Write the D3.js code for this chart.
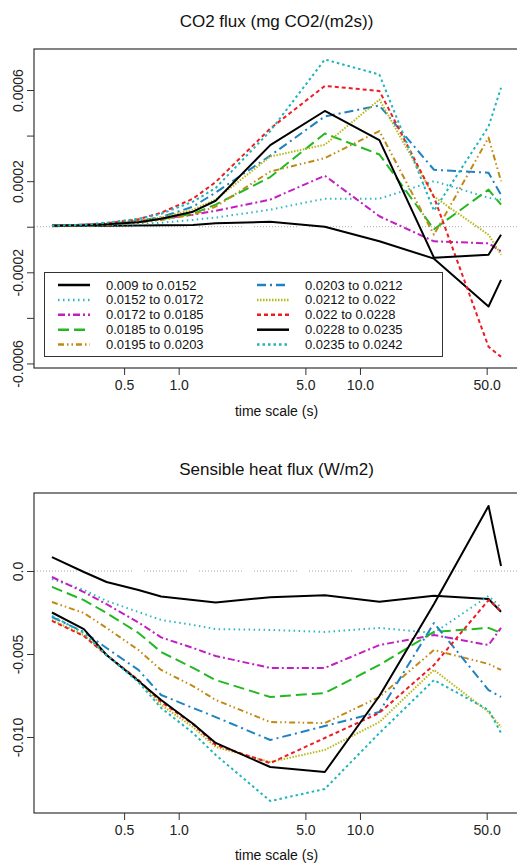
<!DOCTYPE html>
<html><head><meta charset="utf-8">
<script src="https://cdn.jsdelivr.net/npm/d3@7"></script>
<style>
body{margin:0;background:#fff;}
svg{display:block;font-family:"Liberation Sans",Arial,sans-serif;}
</style></head>
<body>
<svg id="c" width="517" height="865"></svg>
<script>
// ---------- data ----------
const timeScale = [0.2,0.3,0.4,0.6,0.8,1.2,1.6,3.2,6.4,12.8,25.6,51.2,60];
const seriesLabels = ["0.009 to 0.0152","0.0152 to 0.0172","0.0172 to 0.0185","0.0185 to 0.0195","0.0195 to 0.0203",
  "0.0203 to 0.0212","0.0212 to 0.022","0.022 to 0.0228","0.0228 to 0.0235","0.0235 to 0.0242"];
const xTicks = [0.5,1,5,10,50];
const xTickLabels = ["0.5","1.0","5.0","10.0","50.0"];
const co2Ticks = [-0.0006,-0.0004,-0.0002,0,0.0002,0.0004,0.0006];
const co2TickLabels = ["-0.0006","","-0.0002","","0.0002","","0.0006"];
const heatTicks = [-0.010,-0.005,0];
const heatTickLabels = ["-0.010","-0.005","0.0"];

// CO2 flux (mg CO2/(m2s))
const co2_1  = [0.0000044,0.000004,0.000004,0.000005,0.000006,0.000008,0.000015,0.000022,0,-0.000064,-0.00014,-0.00035,-0.000233];
const co2_2  = [0.000002,0.0000044,0.0000066,0.000011,0.0000176,0.00003,0.00004,0.000075,0.000123,0.000123,0.0002,0.000127,0.00012];
const co2_3  = [0.0000044,0.0000088,0.000013,0.000026,0.000035,0.000053,0.00007,0.000119,0.000224,0.000046,-0.000064,-0.000073,-0.000108];
const co2_4  = [0.0000044,0.0000066,0.000011,0.000022,0.000033,0.000057,0.000097,0.000218,0.000409,0.000317,-0.000011,0.000163,0.000097];
const co2_5  = [0.000002,0.0000044,0.0000088,0.0000176,0.000029,0.000053,0.000088,0.000242,0.000301,0.00042,-0.000035,0.000391,0.0002];
const co2_6  = [0.0000044,0.0000088,0.000013,0.000026,0.000042,0.000088,0.00015,0.000312,0.000484,0.000532,0.00025,0.000237,0.00014];
const co2_7  = [0.0000044,0.0000088,0.000013,0.000026,0.00004,0.000075,0.000119,0.000308,0.00036,0.000558,0.000132,-0.000035,-0.000123];
const co2_8  = [0.0000044,0.0000088,0.0000154,0.000033,0.0000615,0.000123,0.000196,0.000431,0.000618,0.000596,0.00013,-0.000527,-0.000571];
const co2_9  = [0.0000044,0.0000066,0.000011,0.00002,0.000035,0.000066,0.000114,0.000358,0.000508,0.00038,-0.000136,-0.000123,-0.000035];
const co2_10 = [0.0000044,0.0000088,0.0000176,0.000035,0.000057,0.00011,0.00017,0.00042,0.000734,0.000668,0.00007,0.00044,0.00061];

// Sensible heat flux (W/m2)
const heat_1  = [0.00084,-0.00006,-0.00066,-0.00114,-0.00154,-0.00175,-0.0019,-0.00158,-0.00146,-0.00185,-0.00149,-0.00169,-0.00245];
const heat_2  = [-0.00048,-0.00114,-0.0018,-0.00247,-0.00295,-0.00325,-0.0035,-0.00355,-0.00367,-0.00343,-0.00373,-0.0015,-0.0022];
const heat_3  = [-0.00036,-0.00127,-0.002,-0.0031,-0.004,-0.00464,-0.00512,-0.00584,-0.00584,-0.00446,-0.00386,-0.00446,-0.00343];
const heat_4  = [-0.00096,-0.00175,-0.00253,-0.00373,-0.00488,-0.00584,-0.00657,-0.00759,-0.00735,-0.00566,-0.00367,-0.00343,-0.00373];
const heat_5  = [-0.00187,-0.00253,-0.00343,-0.00476,-0.00596,-0.00693,-0.00777,-0.0091,-0.00916,-0.00759,-0.00476,-0.0056,-0.00596];
const heat_6  = [-0.00277,-0.00367,-0.00464,-0.00596,-0.00747,-0.00825,-0.0088,-0.01018,-0.00934,-0.00849,-0.00313,-0.00717,-0.00759];
const heat_7  = [-0.00295,-0.00386,-0.00506,-0.00657,-0.00807,-0.0094,-0.0106,-0.01151,-0.01078,-0.0091,-0.00596,-0.0085,-0.0094];
const heat_8  = [-0.00301,-0.00392,-0.00506,-0.00657,-0.00789,-0.00922,-0.01048,-0.01157,-0.01006,-0.00855,-0.00566,-0.00175,-0.00241];
const heat_9  = [-0.0025,-0.0035,-0.00506,-0.00663,-0.00777,-0.0092,-0.01036,-0.01181,-0.01211,-0.00753,-0.00199,0.00392,0.0003];
const heat_10 = [-0.00271,-0.00373,-0.00506,-0.00669,-0.00825,-0.00976,-0.01108,-0.01386,-0.01313,-0.00976,-0.00657,-0.00837,-0.00976];

const co2Data = [co2_1,co2_2,co2_3,co2_4,co2_5,co2_6,co2_7,co2_8,co2_9,co2_10];
const heatData = [heat_1,heat_2,heat_3,heat_4,heat_5,heat_6,heat_7,heat_8,heat_9,heat_10];

// ---------- styles ----------
const colors = ["#000000","#2ab7c4","#c21fc2","#22b822","#c08a14","#1f82c2","#b8b818","#ee1c24","#000000","#1fb4b8"];
const dashes = ["none","1.5,3.5","7,3,2,3","11,5","6,3,1.5,3,1.5,3","9,4,2,4","1.5,1.5","4,3","none","2.5,3"];
const widths = [2,2,2,2,2,2,2,2,2,2];

const svg = d3.select("#c");
const L = 34, R = 519;
const lo = Math.log10(d3.min(timeScale)), hi = Math.log10(d3.max(timeScale));
const ext = 0.04*(hi-lo);
const x = d3.scaleLog().domain([10**(lo-ext), 10**(hi+ext)]).range([L,R]);

// zero line dash pattern: groups of dots with a gap
const zeroDash = (function(){const a=[];for(let i=0;i<15;i++){a.push(1,2);}a[a.length-1]=12;return a.join(",");})();

function panel(opts){
  const {top,bottom,yDomain,data,ticks,tickLabels,title,titleY,axisTitleY} = opts;
  const y = d3.scaleLinear().domain(yDomain).range([bottom,top]);
  const g = svg.append("g");
  // title
  g.append("text").attr("x",(L+R)/2).attr("y",titleY).attr("text-anchor","middle")
    .attr("font-size",17).attr("fill","#111").text(title);
  // zero line
  g.append("line").attr("x1",L).attr("x2",R).attr("y1",y(0)).attr("y2",y(0))
    .attr("stroke","#a8a8a8").attr("stroke-width",1).attr("stroke-dasharray",zeroDash);
  // series
  const line = d3.line().x((d,i)=>x(timeScale[i])).y(d=>y(d));
  data.forEach((s,k)=>{
    g.append("path").attr("d",line(s)).attr("fill","none")
      .attr("stroke",colors[k]).attr("stroke-width",widths[k])
      .attr("stroke-dasharray",dashes[k]==="none"?null:dashes[k])
      .attr("stroke-linejoin","round");
  });
  // frame
  g.append("rect").attr("x",L).attr("y",top).attr("width",R-L).attr("height",bottom-top)
    .attr("fill","none").attr("stroke","#333").attr("stroke-width",1.2);
  // x axis
  const xa = g.append("g").attr("transform",`translate(0,${bottom})`)
    .call(d3.axisBottom(x).tickValues(xTicks).tickFormat((d,i)=>xTickLabels[i]).tickSize(7).tickPadding(5));
  xa.select(".domain").remove();
  xa.selectAll("line").attr("stroke","#333");
  xa.selectAll("text").attr("font-size",14).attr("fill","#222").attr("font-family","Liberation Sans, Arial, sans-serif");
  // y axis
  const ya = g.append("g").attr("transform",`translate(${L},0)`)
    .call(d3.axisLeft(y).tickValues(ticks).tickFormat((d,i)=>tickLabels[i]).tickSize(7));
  ya.select(".domain").remove();
  ya.selectAll("line").attr("stroke","#333");
  ya.selectAll("text").attr("font-size",14).attr("fill","#222").attr("font-family","Liberation Sans, Arial, sans-serif")
    .attr("text-anchor","middle").attr("x",0).attr("dy",0)
    .attr("transform","translate(-11,0) rotate(-90)");
  // axis title
  g.append("text").attr("x",(L+R)/2).attr("y",axisTitleY).attr("text-anchor","middle")
    .attr("font-size",14).attr("fill","#111").text("time scale (s)");
  return y;
}

panel({top:49,bottom:368,yDomain:[-0.00062,0.00078],data:co2Data,ticks:co2Ticks,tickLabels:co2TickLabels,
  title:"CO2 flux (mg CO2/(m2s))",titleY:27,axisTitleY:416});
panel({top:493,bottom:813,yDomain:[-0.01458,0.0047],data:heatData,ticks:heatTicks,tickLabels:heatTickLabels,
  title:"Sensible heat flux (W/m2)",titleY:475,axisTitleY:860});

// legend (in top panel)
const lg = svg.append("g");
lg.append("rect").attr("x",44.5).attr("y",272.5).attr("width",398).attr("height",84)
  .attr("fill","#fff").attr("stroke","#333").attr("stroke-width",1);
seriesLabels.forEach((lab,k)=>{
  const col = Math.floor(k/5), row = k%5;
  const lx = col===0?58:257, ty = 285+row*14.9;
  lg.append("line").attr("x1",lx).attr("x2",lx+32).attr("y1",ty).attr("y2",ty)
    .attr("stroke",colors[k]).attr("stroke-width",widths[k]+0.5)
    .attr("stroke-dasharray",dashes[k]==="none"?null:dashes[k]);
  lg.append("text").attr("x",lx+48).attr("y",ty).attr("dy","0.35em").attr("font-size",13)
    .attr("fill","#111").text(lab);
});
</script>
</body></html>
